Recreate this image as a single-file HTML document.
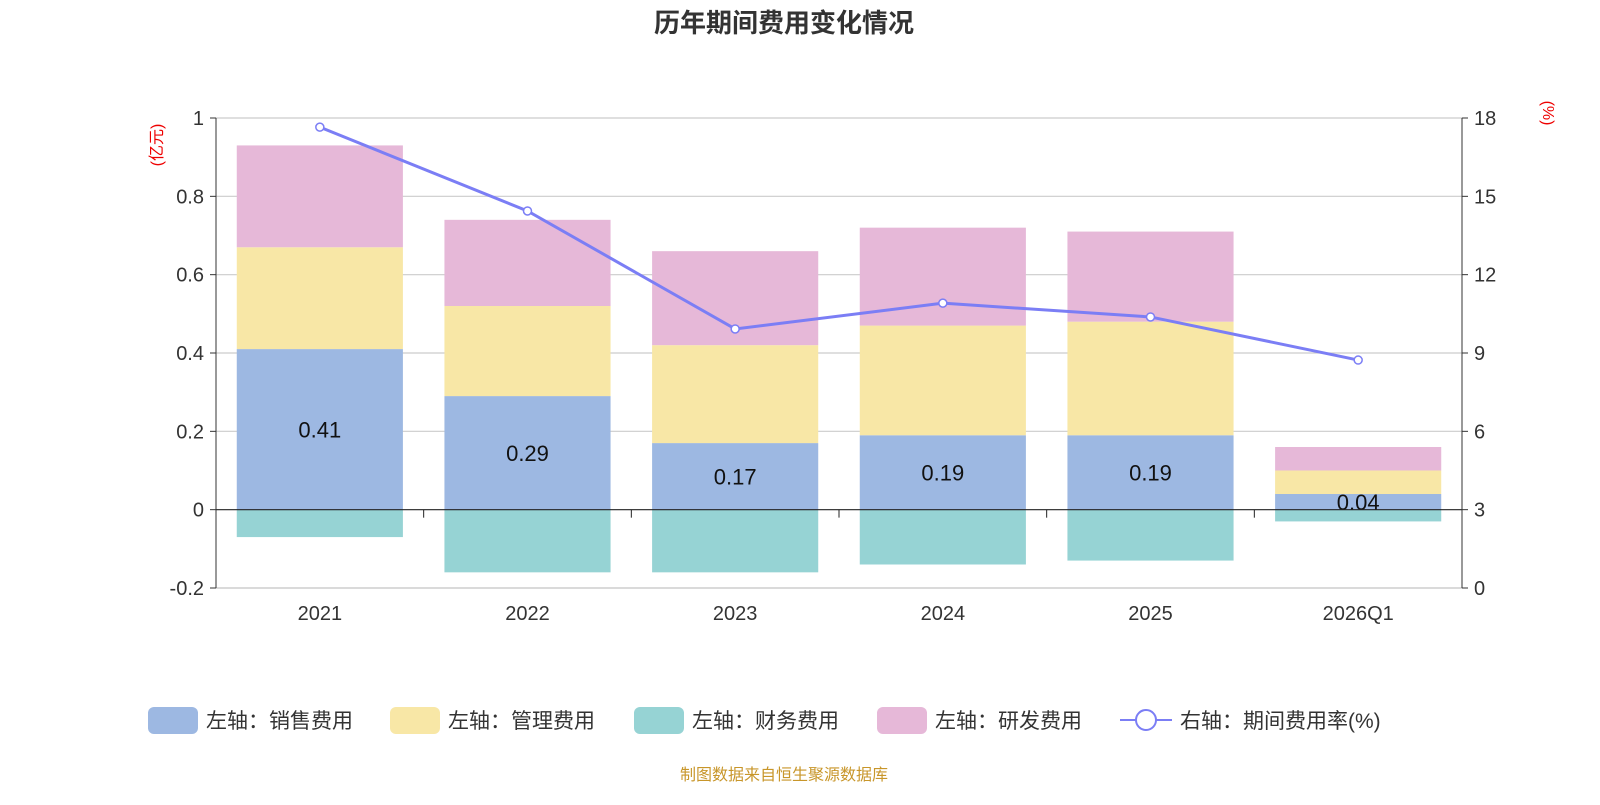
<!DOCTYPE html>
<html><head><meta charset="utf-8"><style>
body{margin:0;background:#fff;}
svg text{font-family:"Liberation Sans","Noto Sans CJK SC",sans-serif;}
</style></head><body>
<svg id="c" width="1600" height="800" xmlns="http://www.w3.org/2000/svg">
<text x="784" y="32" text-anchor="middle" font-size="26" font-weight="bold" fill="#333">历年期间费用变化情况</text>
<text x="0" y="0" transform="translate(162,145) rotate(-90)" text-anchor="middle" font-size="16" fill="#e00">(亿元)</text>
<text x="0" y="0" transform="translate(1543,113) rotate(90)" text-anchor="middle" font-size="16" fill="#e00">(%)</text>
<g id="grid"></g><g id="bars"></g><g id="axes"></g><g id="line"></g>
<g id="legend"></g>
<text x="784" y="780" text-anchor="middle" font-size="16" fill="#c8962a">制图数据来自恒生聚源数据库</text>
</svg>
<script>
const categories=["2021","2022","2023","2024","2025","2026Q1"];
const sales=[0.41,0.29,0.17,0.19,0.19,0.04];
const mgmt=[0.26,0.23,0.25,0.28,0.29,0.06];
const fin=[-0.07,-0.16,-0.16,-0.14,-0.13,-0.03];
const rnd=[0.26,0.22,0.24,0.25,0.23,0.06];
const rate=[17.65,14.44,9.92,10.91,10.38,8.73];
const leftTicks=[-0.2,0,0.2,0.4,0.6,0.8,1];
const rightTicks=[0,3,6,9,12,15,18];
const NS="http://www.w3.org/2000/svg";
const X0=216,X1=1462,Y0=588,Y1=118;
const bw=(X1-X0)/categories.length;
const yL=v=>Y0-(v+0.2)/1.2*(Y0-Y1);
const yR=v=>Y0-v/18*(Y0-Y1);
const xc=i=>X0+bw*(i+0.5);
function mk(p,tag,a){const e=document.createElementNS(NS,tag);for(const k in a)e.setAttribute(k,a[k]);document.getElementById(p).appendChild(e);return e;}
leftTicks.forEach((t,i)=>{
 if(t!==0){const g=mk('grid','line',{x1:X0,x2:X1,y1:yL(t),y2:yL(t),stroke:'#ccc','stroke-width':1.2});
 
 }
 const tk=mk('axes','line',{x1:X0-6,x2:X0,y1:yL(t),y2:yL(t),stroke:'#333'});
 
 
 const l=mk('axes','text',{x:X0-12,y:yL(t)+7,'text-anchor':'end','font-size':20,fill:'#333'});l.textContent=t;
 
 
});
rightTicks.forEach(t=>{
 const tk=mk('axes','line',{x1:X1,x2:X1+6,y1:yR(t),y2:yR(t),stroke:'#333'});
 
 
 const l=mk('axes','text',{x:X1+12,y:yR(t)+7,'font-size':20,fill:'#333'});l.textContent=t;
 
 
});
const bwid=bw*0.8;
categories.forEach((c,i)=>{
 const x=xc(i)-bwid/2;
 const segs=[[0,sales[i],'#9db8e2','bar-sales'],[sales[i],sales[i]+mgmt[i],'#f8e7a6','bar-mgmt'],[sales[i]+mgmt[i],sales[i]+mgmt[i]+rnd[i],'#e6b8d8','bar-rnd'],[fin[i],0,'#96d3d4','bar-finance']];
 segs.forEach(s=>{const r=mk('bars','rect',{x:x,y:yL(Math.max(s[0],s[1])),width:bwid,height:Math.abs(yL(s[0])-yL(s[1])),fill:s[2]});
 
 });
 const t=mk('bars','text',{x:xc(i),y:(yL(0)+yL(sales[i]))/2+8,'text-anchor':'middle','font-size':22,fill:'#111'});t.textContent=sales[i].toFixed(2);
 
 
 const xl=mk('axes','text',{x:xc(i),y:Y0+32,'text-anchor':'middle','font-size':20,fill:'#333'});xl.textContent=c;
 
 
});
[['x-axis-line',X0,X1,yL(0),yL(0)],['bottom-axis-line',X0,X1,Y0,Y0]].forEach(a=>{
 const l=mk('axes','line',{x1:a[1],x2:a[2],y1:a[3],y2:a[4],stroke:a[0]=='x-axis-line'?'#222':'#ccc','stroke-width':1.2});
 
 
});
for(let i=0;i<=categories.length;i++){const l=mk('axes','line',{x1:X0+bw*i,x2:X0+bw*i,y1:yL(0),y2:yL(0)+8,stroke:'#222'});
 
 }
const la=mk('axes','line',{x1:X0,x2:X0,y1:Y1,y2:Y0,stroke:'#333'});


const ra=mk('axes','line',{x1:X1,x2:X1,y1:Y1,y2:Y0,stroke:'#333'});


const pl=mk('line','polyline',{points:rate.map((v,i)=>xc(i)+','+yR(v)).join(' '),fill:'none',stroke:'#7b7ef5','stroke-width':3});


rate.forEach((v,i)=>{const c=mk('line','circle',{cx:xc(i),cy:yR(v),r:4,fill:'#fff',stroke:'#7b7ef5','stroke-width':1.5});
 
 });
const leg=[['左轴：销售费用','#9db8e2',148],['左轴：管理费用','#f8e7a6',390],['左轴：财务费用','#96d3d4',634],['左轴：研发费用','#e6b8d8',877]];
leg.forEach(l=>{const r=mk('legend','rect',{x:l[2],y:707,width:50,height:27,rx:6,fill:l[1]});
 
 
 const t=mk('legend','text',{x:l[2]+58,y:728,'font-size':21,fill:'#333'});t.textContent=l[0];
 
 });
const ll=mk('legend','line',{x1:1120,x2:1172,y1:720,y2:720,stroke:'#7b7ef5','stroke-width':2});


const lc=mk('legend','circle',{cx:1146,cy:720,r:10,fill:'#fff',stroke:'#7b7ef5','stroke-width':2});


const lt=mk('legend','text',{x:1180,y:728,'font-size':21,fill:'#333'});lt.textContent='右轴：期间费用率(%)';


</script></body></html>
